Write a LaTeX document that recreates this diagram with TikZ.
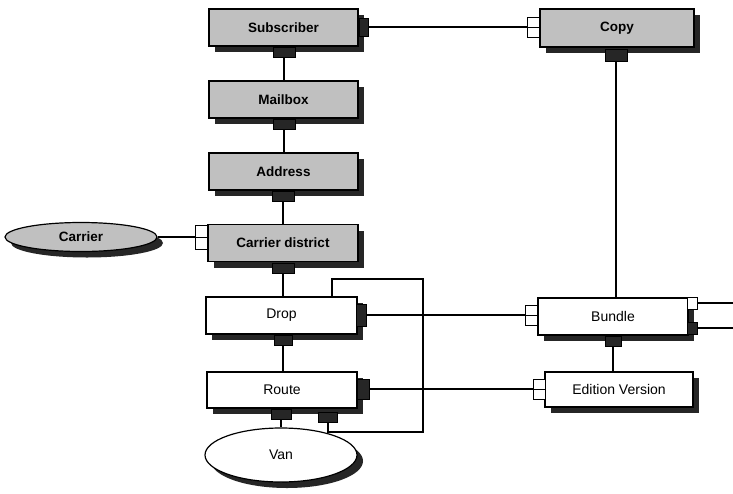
\documentclass[tikz,border=0pt]{standalone}
\usepackage{fontspec}
\setmainfont{Liberation Sans}
\usetikzlibrary{shapes.geometric,shadows}
\definecolor{boxgray}{HTML}{C0C0C0}
\definecolor{shade}{HTML}{262626}

\begin{document}
\begin{tikzpicture}[x=1pt,y=-1pt,
  boxshadow/.style={drop shadow={shadow xshift=6pt,shadow yshift=-6pt,fill=shade,opacity=1}},
  entity/.style={draw=black,line width=1.2pt,rectangle,inner sep=0pt,boxshadow},
  grayent/.style={entity,fill=boxgray,font=\bfseries\fontsize{13.5}{16}\selectfont},
  whiteent/.style={entity,fill=white,font=\fontsize{14}{16}\selectfont},
  sideport/.style={draw=black,line width=1pt,fill=white,rectangle,inner sep=0pt,
    minimum width=12pt,minimum height=20pt,
    path picture={\draw[line width=0.8pt] (path picture bounding box.west) -- (path picture bounding box.east);}},
  darkport/.style={draw=black,line width=1pt,fill=shade,rectangle,inner sep=0pt},
  heavy/.style={line width=2.8pt},
  medium/.style={line width=2pt},
  light/.style={line width=1.3pt}]

\useasboundingbox (0,0) rectangle (733,493);
\fill[white] (0,0) rectangle (733,493);

% entities
\node[grayent,minimum width=149pt,minimum height=37pt] (sub)  at (283.5,27.5) {Subscriber};
\node[grayent,minimum width=149pt,minimum height=37pt] (mail) at (283.5,99.5) {Mailbox};
\node[grayent,minimum width=149pt,minimum height=37pt] (addr) at (283.5,171.5) {Address};
\node[grayent,minimum width=150pt,minimum height=37pt] (cd)   at (283,243) {Carrier district};
\node[grayent,minimum width=154pt,minimum height=38pt] (copy) at (617,28) {Copy};
\node[whiteent,minimum width=151pt,minimum height=37pt] (drop)  at (281.5,315.5) {Drop};
\node[whiteent,minimum width=150pt,minimum height=36pt] (route) at (282,390) {Route};
\node[whiteent,minimum width=150pt,minimum height=37pt] (bundle) at (613,316.5) {Bundle};
\node[whiteent,minimum width=148pt,minimum height=35pt] (ev) at (619,389.5) {Edition Version};
\node[ellipse,draw=black,line width=1.2pt,fill=boxgray,inner sep=0pt,boxshadow,
      minimum width=152pt,minimum height=29pt,
      font=\bfseries\fontsize{13.5}{16}\selectfont] (carrier) at (81,237) {Carrier};
\node[ellipse,draw=black,line width=1.2pt,fill=white,inner sep=0pt,boxshadow,
      minimum width=152pt,minimum height=54pt,
      font=\fontsize{14}{16}\selectfont] (van) at (281,455) {Van};

% connection ports
\node[darkport,minimum width=9pt,minimum height=18pt] (subR) at (364,27) {};
\node[darkport,minimum width=22pt,minimum height=10pt] (subB) at (284,52) {};
\node[darkport,minimum width=22pt,minimum height=10pt] (mailB) at (284,124) {};
\node[darkport,minimum width=22pt,minimum height=10pt] (addrB) at (283,196) {};
\node[darkport,minimum width=22pt,minimum height=10pt] (cdB) at (283,268) {};
\node[darkport,minimum width=18pt,minimum height=10pt] (dropB) at (283,340) {};
\node[darkport,minimum width=20pt,minimum height=10pt] (routeB) at (281,414) {};
\node[darkport,minimum width=19pt,minimum height=10pt] (routeL) at (328,417) {};
\node[darkport,minimum width=10pt,minimum height=22pt] (dropR) at (361,315) {};
\node[darkport,minimum width=12pt,minimum height=20pt] (routeR) at (363,389) {};
\node[darkport,minimum width=22pt,minimum height=12pt] (copyB) at (616,55) {};
\node[darkport,minimum width=16pt,minimum height=10pt] (bundleB) at (613,341) {};
\node[darkport,minimum width=10pt,minimum height=12pt] (bundleR2) at (692.5,328) {};
\node[draw=black,line width=1pt,fill=white,inner sep=0pt,minimum width=10pt,minimum height=12pt] (bundleR1) at (692.5,303) {};
\node[sideport] (copyL) at (533.5,27) {};
\node[sideport,minimum height=24pt] (cdL) at (201,237) {};
\node[sideport] (bundleL) at (531.5,315) {};
\node[sideport] (evL) at (539,389) {};

% free ends and bends
\coordinate (e1) at (733,303);
\coordinate (e2) at (733,328);
\coordinate (l1) at (332,279);
\coordinate (l2) at (423,279);
\coordinate (l3) at (423,432);
\coordinate (l4) at (328,432);

% connectors
\draw[heavy] (subR.east) -- (copyL.west);
\draw[heavy] (subB.south) -- (subB.south |- mail.north);
\draw[heavy] (mailB.south) -- (mailB.south |- addr.north);
\draw[heavy] (addrB.south) -- (addrB.south |- cd.north);
\draw[heavy] (cdB.south) -- (cdB.south |- drop.north);
\draw[medium] (carrier.east) -- (cdL.west);
\draw[medium] (dropB.south) -- (dropB.south |- route.north);
\draw[light] (routeB.south) -- (van.north);
\draw[heavy] (copyB.south) -- (copyB.south |- bundle.north);
\draw[medium] (bundleB.south) -- (bundleB.south |- ev.north);
\draw[light] (dropR.east) -- (bundleL.west);
\draw[light] (routeR.east) -- (evL.west);
\draw[light] (bundleR1.east) -- (e1);
\draw[light] (bundleR2.east) -- (e2);
\draw[heavy,line join=miter] (drop.north -| l1) -- (l1) -- (l2) -- (l3) -- (l4) -- (routeL.south);
\end{tikzpicture}
\end{document}
